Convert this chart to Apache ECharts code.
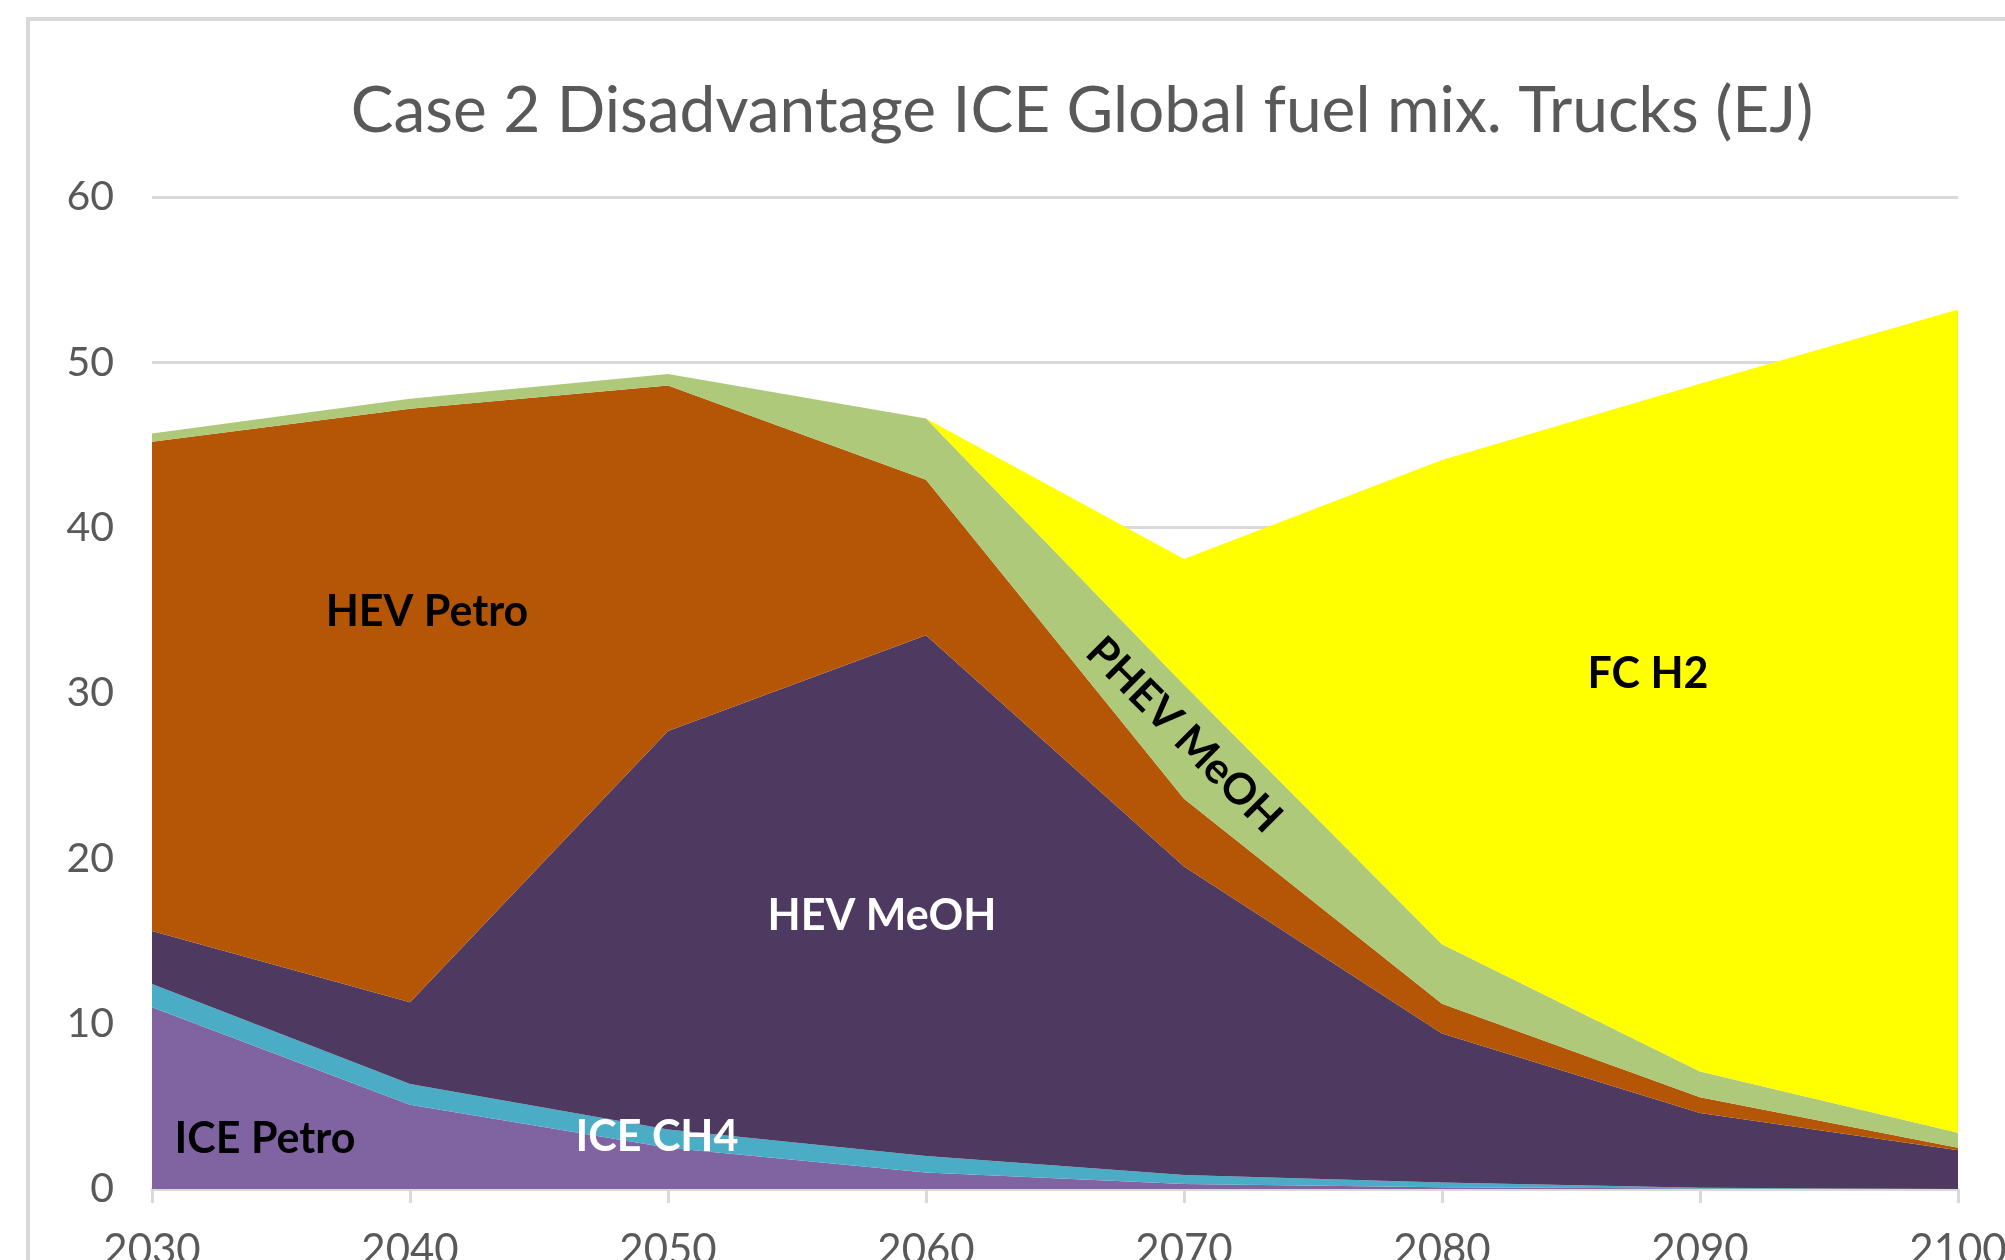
<!DOCTYPE html>
<html>
<head>
<meta charset="utf-8">
<script src="https://cdn.jsdelivr.net/npm/echarts@6/dist/echarts.min.js"></script>
<style>
html,body{margin:0;padding:0;background:#fff;}
#chart{width:2005px;height:1260px;}
</style>
</head>
<body>
<div id="chart"></div>
<script>
var years = ['2030','2040','2050','2060','2070','2080','2090','2100'];
var icePetro = [11.0, 5.1, 2.5, 1.0, 0.3, 0.1, 0.03, 0];
var iceCH4   = [1.4, 1.25, 1.1, 1.0, 0.55, 0.3, 0.05, 0];
var hevMeOH  = [3.2, 4.95, 24.1, 31.5, 18.65, 9.0, 4.52, 2.35];
var hevPetro = [29.6, 35.9, 20.9, 9.4, 4.1, 1.8, 0.95, 0.15];
var phevMeOH = [0.5, 0.6, 0.7, 3.7, 6.9, 3.6, 1.55, 0.9];
var fcH2     = [0, 0, 0, 0, 7.6, 29.3, 41.6, 49.8];

var seriesNames = ['ICE Petro','ICE CH4','HEV MeOH','HEV Petro','PHEV MeOH','FC H2'];
var seriesData = [icePetro, iceCH4, hevMeOH, hevPetro, phevMeOH, fcH2];
var seriesColors = ['#8064A2','#4BACC6','#4E3A61','#B45606','#AFC97A','#FFFF00'];

var chart = echarts.init(document.getElementById('chart'));
var series = seriesNames.map(function(n, i){
  return {
    name: n, type: 'line', stack: 'total', data: seriesData[i],
    symbol: 'none', lineStyle: {width: 0},
    areaStyle: {color: seriesColors[i], opacity: 1},
    itemStyle: {color: seriesColors[i]},
    silent: true, animation: false
  };
});

var lbl = function(text, x, y, color, rot){
  return {type:'text', x:x, y:y, rotation: rot||0, z: 100,
    style:{text:text, fill:color, font:'bold 43px Lato', textAlign:'center', textVerticalAlign:'middle'}};
};

chart.setOption({
  animation: false,
  backgroundColor: '#fff',
  title: {
    text: 'Case 2 Disadvantage ICE Global fuel mix. Trucks (EJ)',
    left: 1077, top: 74, textAlign: 'center',
    textStyle: {fontFamily: 'Lato', fontWeight: 'normal', fontSize: 64, color: '#595959'}
  },
  grid: {left: 152, right: 47, top: 197, bottom: 71, containLabel: false, outerBoundsMode: 'none'},
  xAxis: {
    type: 'category', data: years, boundaryGap: false,
    axisLine: {lineStyle: {color: '#D9D9D9', width: 3}},
    axisTick: {show: true, length: 14, lineStyle: {color: '#D9D9D9', width: 3}},
    axisLabel: {color: '#595959', fontFamily: 'Lato', fontSize: 42, margin: 40}
  },
  yAxis: {
    type: 'value', min: 0, max: 60, interval: 10,
    axisLine: {show: false}, axisTick: {show: false},
    splitLine: {lineStyle: {color: '#D9D9D9', width: 3}},
    axisLabel: {color: '#595959', fontFamily: 'Lato', fontSize: 41, margin: 38}
  },
  series: series,
  graphic: [
    {type:'rect', shape:{x:28, y:19, width:2100, height:1400}, style:{fill:null, stroke:'#D9D9D9', lineWidth:4}, z:0, silent:true},
    lbl('HEV Petro', 427, 612, '#000'),
    lbl('HEV MeOH', 882, 916, '#fff'),
    lbl('ICE CH4', 657, 1137, '#fff'),
    lbl('ICE Petro', 265, 1139, '#000'),
    lbl('PHEV MeOH', 1184, 735, '#000', -Math.PI/4),
    lbl('FC H2', 1648, 674, '#000')
  ]
});
</script>
</body>
</html>
